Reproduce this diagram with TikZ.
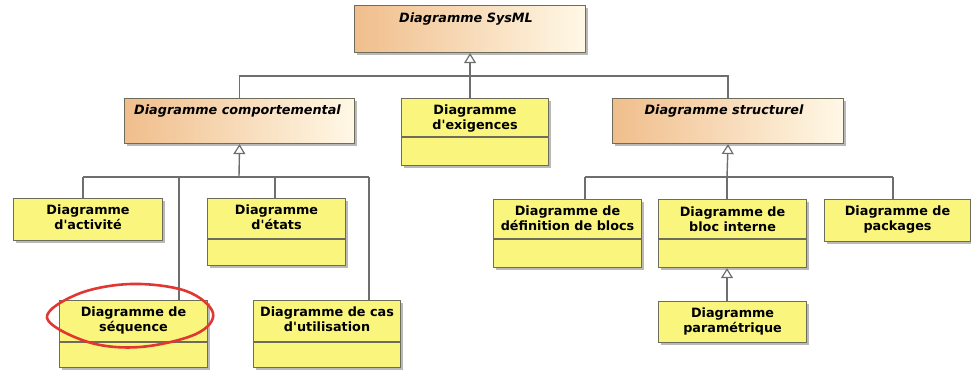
\documentclass[tikz,border=0pt]{standalone}
\usepackage{fontspec}
\setmainfont{DejaVu Sans}
\usetikzlibrary{arrows.meta,shadows,calc}
\definecolor{yfill}{RGB}{250,246,125}
\definecolor{oleft}{RGB}{240,190,140}
\definecolor{oright}{RGB}{255,248,230}
\definecolor{bline}{RGB}{110,108,90}
\definecolor{cline}{RGB}{110,110,110}
\definecolor{rmark}{RGB}{225,55,50}
\newcommand{\apos}{\textquotesingle}
\tikzset{
  shadowed/.style={general shadow={shadow xshift=2.5pt, shadow yshift=-2.5pt, fill=black!50, opacity=.55}},
  ybox/.style={shadowed, draw=bline, line width=1.1pt, fill=yfill, rectangle, inner sep=0pt, anchor=north west},
  obox/.style={shadowed, draw=bline, line width=1.1pt, left color=oleft, right color=oright, rectangle, inner sep=0pt, anchor=north west},
  lbl/.style={font=\fontsize{12.8}{14.5}\selectfont\bfseries, align=center, inner sep=0pt, anchor=north, text=black},
  ttl/.style={font=\fontsize{12.8}{14.5}\selectfont\bfseries\itshape, inner sep=0pt, anchor=north, text=black},
  sep/.style={draw=bline, line width=1.1pt},
  conn/.style={draw=cline, line width=1.4pt},
  gen/.style={conn, -{Triangle[open, width=12pt, length=10pt, fill=white, line width=1.2pt]}},
  ring/.style={draw=rmark, line width=2.6pt}
}
\begin{document}
\begin{tikzpicture}[x=1pt,y=-1pt]
\useasboundingbox (0,0) rectangle (971,372);
% boxes
\node[obox, minimum width=231pt, minimum height=47pt] (sys) at (354,5) {};
\node[obox, minimum width=230pt, minimum height=45pt] (comp) at (124,98) {};
\node[ybox, minimum width=147pt, minimum height=67pt] (exi) at (401,98) {};
\node[obox, minimum width=231pt, minimum height=45pt] (struct) at (612,98) {};
\node[ybox, minimum width=149pt, minimum height=42pt] (act) at (13,198) {};
\node[ybox, minimum width=138pt, minimum height=67pt] (eta) at (207,198) {};
\node[ybox, minimum width=148pt, minimum height=67pt] (seq) at (59,300) {};
\node[ybox, minimum width=147pt, minimum height=67pt] (cas) at (253,300) {};
\node[ybox, minimum width=148pt, minimum height=68pt] (blocs) at (493,199) {};
\node[ybox, minimum width=148pt, minimum height=68pt] (bint) at (658,199) {};
\node[ybox, minimum width=146pt, minimum height=42pt] (pack) at (824,199) {};
\node[ybox, minimum width=148pt, minimum height=41pt] (param) at (658,301) {};
% compartments
\draw[sep] (exi.west |- 0,137) -- (exi.east |- 0,137);
\draw[sep] (eta.west |- 0,239) -- (eta.east |- 0,239);
\draw[sep] (seq.west |- 0,342) -- (seq.east |- 0,342);
\draw[sep] (cas.west |- 0,342) -- (cas.east |- 0,342);
\draw[sep] (blocs.west |- 0,239) -- (blocs.east |- 0,239);
\draw[sep] (bint.west |- 0,239) -- (bint.east |- 0,239);
% titles
\node[ttl] (sys-t) at ([xshift=-4pt,yshift=-8pt]sys.north) {Diagramme SysML};
\node[ttl] (comp-t) at ([xshift=-2pt,yshift=-7pt]comp.north) {Diagramme comportemental};
\node[ttl] (struct-t) at ([xshift=-4pt,yshift=-7pt]struct.north) {Diagramme structurel};
\node[lbl] (exi-t) at ([yshift=-7pt]exi.north) {Diagramme\\d\apos exigences};
\node[lbl] (act-t) at ([yshift=-7pt]act.north) {Diagramme\\d\apos activité};
\node[lbl] (eta-t) at ([yshift=-7pt]eta.north) {Diagramme\\d\apos états};
\node[lbl] (seq-t) at ([yshift=-7pt]seq.north) {Diagramme de\\séquence};
\node[lbl] (cas-t) at ([yshift=-7pt]cas.north) {Diagramme de cas\\d\apos utilisation};
\node[lbl] (blocs-t) at ([yshift=-7pt]blocs.north) {Diagramme de\\définition de blocs};
\node[lbl] (bint-t) at ([yshift=-8pt]bint.north) {Diagramme de\\bloc interne};
\node[lbl] (pack-t) at ([yshift=-7pt]pack.north) {Diagramme de\\packages};
\node[lbl] (param-t) at ([yshift=-7pt]param.north) {Diagramme\\paramétrique};
% bus coordinates
\coordinate (topbus) at (469,76);
\coordinate (cbus) at (239,177);
\coordinate (sbus) at (727,177);
\coordinate (c1) at (83,177);
\coordinate (c2) at (179,177);
\coordinate (c3) at (275,177);
\coordinate (c4) at (369,177);
\coordinate (s1) at (585,177);
\coordinate (s3) at (893,177);
% top level
\draw[conn] (comp.north) -- (comp.north |- topbus) -- (struct.north |- topbus) -- (struct.north);
\draw[gen] (exi.north -| sys.south) -- (sys.south);
% comportemental
\draw[gen] (cbus) -- (comp.south);
\draw[conn] (c1) -- (c4);
\draw[conn] (c1) -- (c1 |- act.north);
\draw[conn] (c2) -- (c2 |- seq.north);
\draw[conn] (c3) -- (c3 |- eta.north);
\draw[conn] (c4) -- (c4 |- cas.north);
% structurel
\draw[gen] (sbus) -- (struct.south);
\draw[conn] (s1) -- (s3);
\draw[conn] (s1) -- (s1 |- blocs.north);
\draw[conn] (sbus) -- (sbus |- bint.north);
\draw[conn] (s3) -- (s3 |- pack.north);
\draw[gen] (param.north -| sbus) -- (bint.south -| sbus);
% red mark
\draw[ring] plot[smooth cycle, tension=0.6] coordinates {(47,318) (78,294) (131,284) (186,291) (213,313) (196,334) (140,347) (88,342)};
\end{tikzpicture}
\end{document}
